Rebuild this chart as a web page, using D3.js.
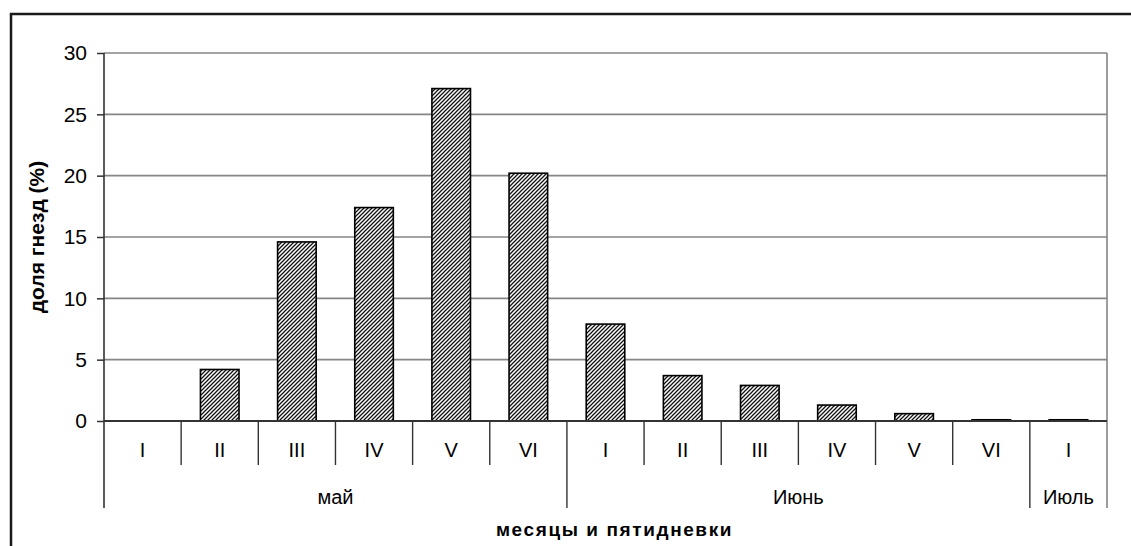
<!DOCTYPE html>
<html>
<head>
<meta charset="utf-8">
<script src="https://cdn.jsdelivr.net/npm/d3@7"></script>
<style>
  html, body { margin: 0; padding: 0; background: #fff; }
  svg { display: block; font-family: "Liberation Sans", Arial, sans-serif; }
</style>
</head>
<body>
<svg id="chart" width="1131" height="546"></svg>
<script>
// Pentads (five-day periods) of each month
const pentads = ["I", "II", "III", "IV", "V", "VI", "I", "II", "III", "IV", "V", "VI", "I"];
// Month each pentad belongs to
const months = ["май", "май", "май", "май", "май", "май",
                "Июнь", "Июнь", "Июнь", "Июнь", "Июнь", "Июнь", "Июль"];
// Share of nests started in each pentad, %
const nestShare = [0, 4.2, 14.6, 17.4, 27.1, 20.2, 7.9, 3.7, 2.9, 1.3, 0.6, 0.1, 0.1];
const yTicks = [0, 5, 10, 15, 20, 25, 30];

const svg = d3.select("#chart");
const plot = { left: 104, right: 1107, top: 53, bottom: 421 };

// Diagonal hatch fill for the bars
const defs = svg.append("defs");
const pat = defs.append("pattern")
  .attr("id", "hatch")
  .attr("patternUnits", "userSpaceOnUse")
  .attr("width", 4).attr("height", 4);
pat.append("rect").attr("width", 4).attr("height", 4).attr("fill", "#fafafa");
pat.append("path")
  .attr("d", "M-1,1 L1,-1 M0,4 L4,0 M3,5 L5,3")
  .attr("stroke", "#111").attr("stroke-width", 1.25);

// Outer chart frame
svg.append("rect")
  .attr("x", 11).attr("y", 14).attr("width", 1140).attr("height", 560)
  .attr("fill", "none").attr("stroke", "#1a1a1a").attr("stroke-width", 2.5);

const idx = d3.range(pentads.length);
const xSlot = d3.scaleBand().domain(idx).range([plot.left, plot.right]).padding(0);
const xBar = d3.scaleBand().domain(idx).range([plot.left, plot.right])
  .paddingInner(0.5).paddingOuter(0.25);
const y = d3.scaleLinear().domain([0, 30]).range([plot.bottom, plot.top]);

// Horizontal gridlines
svg.append("g").selectAll("line")
  .data(yTicks.filter(d => d > 0))
  .join("line")
  .attr("x1", plot.left).attr("x2", plot.right)
  .attr("y1", d => y(d)).attr("y2", d => y(d))
  .attr("stroke", "#858585").attr("stroke-width", 1.6);

// Right edge of the plot area, running down through the category rows
svg.append("line")
  .attr("x1", plot.right).attr("x2", plot.right)
  .attr("y1", plot.top).attr("y2", 508)
  .attr("stroke", "#858585").attr("stroke-width", 1.6);

// Bars
svg.append("g").selectAll("rect")
  .data(nestShare)
  .join("rect")
  .attr("x", (d, i) => xBar(i))
  .attr("width", xBar.bandwidth())
  .attr("y", d => y(d))
  .attr("height", d => y(0) - y(d))
  .attr("fill", "url(#hatch)")
  .attr("stroke", "#000").attr("stroke-width", 1.6)
  .attr("visibility", d => d > 0 ? "visible" : "hidden");

// Y axis
const yAxis = d3.axisLeft(y).tickValues(yTicks).tickSize(7).tickPadding(10);
const gy = svg.append("g").attr("transform", `translate(${plot.left},0)`).call(yAxis);
gy.select(".domain").remove();
gy.selectAll(".tick line").attr("stroke", "#333").attr("stroke-width", 1.5);
gy.selectAll(".tick text").attr("font-size", 21).attr("fill", "#000")
  .attr("font-family", "Liberation Sans, Arial, sans-serif");

svg.append("line")
  .attr("x1", plot.left).attr("x2", plot.left)
  .attr("y1", plot.top).attr("y2", 508)
  .attr("stroke", "#333").attr("stroke-width", 1.6);

// Baseline
svg.append("line")
  .attr("x1", plot.left).attr("x2", plot.right)
  .attr("y1", y(0)).attr("y2", y(0))
  .attr("stroke", "#333").attr("stroke-width", 1.8);

// Category dividers: short between pentads, long between months
const dividers = d3.range(1, pentads.length).map(i => ({
  x: xSlot(i),
  long: months[i] !== months[i - 1]
}));
svg.append("g").selectAll("line")
  .data(dividers)
  .join("line")
  .attr("x1", d => d.x).attr("x2", d => d.x)
  .attr("y1", y(0)).attr("y2", d => d.long ? 508 : 465)
  .attr("stroke", "#333").attr("stroke-width", 1.4);

// Pentad labels
svg.append("g").selectAll("text")
  .data(pentads)
  .join("text")
  .attr("x", (d, i) => xSlot(i) + xSlot.bandwidth() / 2)
  .attr("y", 457)
  .attr("text-anchor", "middle")
  .attr("font-size", 20)
  .text(d => d);

// Month labels, centred over their pentads
const monthGroups = d3.groups(idx, i => months[i]).map(([m, is]) => ({
  name: m,
  x0: xSlot(is[0]),
  x1: xSlot(is[is.length - 1]) + xSlot.bandwidth()
}));
svg.append("g").selectAll("text")
  .data(monthGroups)
  .join("text")
  .attr("x", d => (d.x0 + d.x1) / 2)
  .attr("y", 504)
  .attr("text-anchor", "middle")
  .attr("font-size", 20)
  .text(d => d.name);

// Axis titles
svg.append("text")
  .attr("x", (plot.left + plot.right) / 2 + 9)
  .attr("y", 536)
  .attr("text-anchor", "middle")
  .attr("font-size", 19).attr("font-weight", "bold")
  .attr("letter-spacing", 1.6)
  .text("месяцы и пятидневки");

svg.append("text")
  .attr("transform", `translate(44,${(plot.top + plot.bottom) / 2}) rotate(-90)`)
  .attr("text-anchor", "middle")
  .attr("font-size", 21).attr("font-weight", "bold")
  .text("доля гнезд (%)");
</script>
</body>
</html>
